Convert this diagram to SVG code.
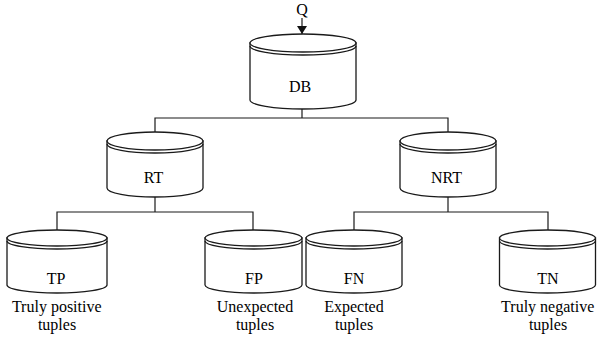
<svg xmlns="http://www.w3.org/2000/svg" width="597" height="337" viewBox="0 0 597 337">
<defs>
<marker id="ah" markerWidth="8" markerHeight="10" refX="8" refY="5" orient="auto" markerUnits="userSpaceOnUse">
<path d="M0,0 L8,5 L0,10 Z" fill="#111"/>
</marker>
</defs>
<rect width="597" height="337" fill="#fff"/>
<g id="connectors" fill="none" stroke="#1a1a1a" stroke-width="1.2">
<line x1="302" y1="18" x2="302" y2="34" marker-end="url(#ah)"/>
<polyline points="302,109 302,118"/>
<polyline points="155,132 155,118 448,118 448,132"/>
<polyline points="155,197 155,212"/>
<polyline points="57,230 57,212 253,212 253,230"/>
<polyline points="448,197 448,212"/>
<polyline points="354,230 354,212 548,212 548,230"/>
</g>
<g id="nodes" stroke="#1a1a1a" stroke-width="1.3">
<g id="DB">
<path fill="#fff" d="M250,43 L250,100 A53 9 0 0 0 356,100 L356,43 Z"/>
<ellipse fill="#fff" cx="303" cy="43" rx="53" ry="9"/>
<path fill="none" d="M250,46 A53 9 0 0 0 356,46"/>
</g>
<g id="RT">
<path fill="#fff" d="M107,141 L107,188 A48 9 0 0 0 203,188 L203,141 Z"/>
<ellipse fill="#fff" cx="155" cy="141" rx="48" ry="9"/>
<path fill="none" d="M107,144 A48 9 0 0 0 203,144"/>
</g>
<g id="NRT">
<path fill="#fff" d="M400,141 L400,188 A48 9 0 0 0 496,188 L496,141 Z"/>
<ellipse fill="#fff" cx="448" cy="141" rx="48" ry="9"/>
<path fill="none" d="M400,144 A48 9 0 0 0 496,144"/>
</g>
<g id="TP">
<path fill="#fff" d="M7,238 L7,285 A50 8 0 0 0 107,285 L107,238 Z"/>
<ellipse fill="#fff" cx="57" cy="238" rx="50" ry="8"/>
<path fill="none" d="M7,241 A50 8 0 0 0 107,241"/>
</g>
<g id="FP">
<path fill="#fff" d="M205,238 L205,285 A48.5 8 0 0 0 302,285 L302,238 Z"/>
<ellipse fill="#fff" cx="253.5" cy="238" rx="48.5" ry="8"/>
<path fill="none" d="M205,241 A48.5 8 0 0 0 302,241"/>
</g>
<g id="FN">
<path fill="#fff" d="M306,238 L306,285 A48 8 0 0 0 402,285 L402,238 Z"/>
<ellipse fill="#fff" cx="354" cy="238" rx="48" ry="8"/>
<path fill="none" d="M306,241 A48 8 0 0 0 402,241"/>
</g>
<g id="TN">
<path fill="#fff" d="M499.5,238 L499.5,285 A48 8 0 0 0 595.5,285 L595.5,238 Z"/>
<ellipse fill="#fff" cx="547.5" cy="238" rx="48" ry="8"/>
<path fill="none" d="M499.5,241 A48 8 0 0 0 595.5,241"/>
</g>
</g>
<g id="labels" font-family="Liberation Serif" font-size="16">
<text x="296.2" y="15">Q</text>
<text x="288.9" y="92">DB</text>
<text x="143.8" y="183">RT</text>
<text x="431" y="183">NRT</text>
<text x="46.7" y="284">TP</text>
<text x="11.9" y="312">Truly positive</text>
<text x="37.9" y="330">tuples</text>
<text x="245.1" y="284">FP</text>
<text x="216.8" y="312">Unexpected</text>
<text x="235.9" y="330">tuples</text>
<text x="343.8" y="284">FN</text>
<text x="324.2" y="312">Expected</text>
<text x="334.9" y="330">tuples</text>
<text x="537.3" y="284">TN</text>
<text x="501.1" y="312">Truly negative</text>
<text x="528.9" y="330">tuples</text>
</g>
</svg>
